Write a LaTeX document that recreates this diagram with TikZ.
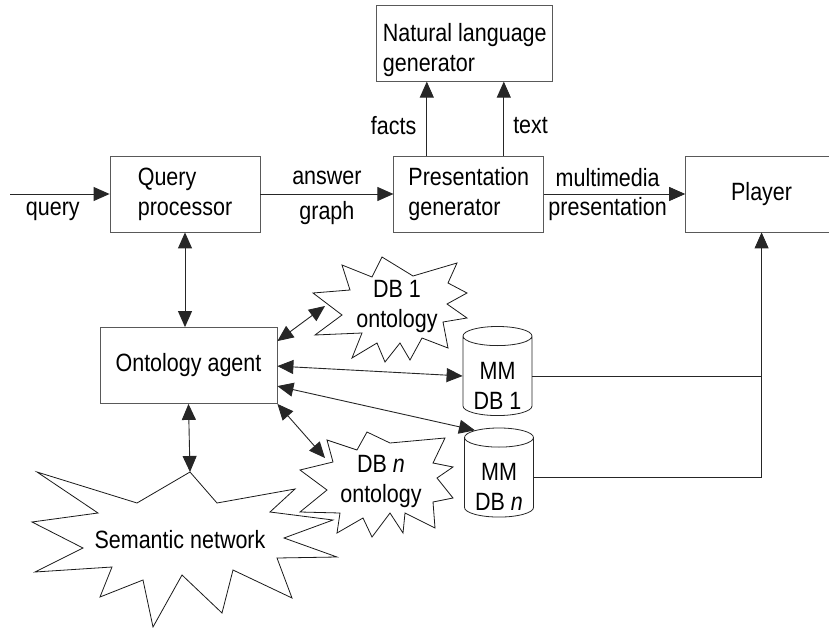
\documentclass[tikz,border=0pt]{standalone}
\usepackage{fontspec}
\setmainfont{Liberation Sans}[FakeStretch=0.86]
\usetikzlibrary{arrows.meta,positioning,shapes.geometric}

\begin{document}
\begin{tikzpicture}[x=1pt,y=-1pt,>={Triangle[length=16pt,width=14pt]},
    font=\fontsize{25}{30}\selectfont,
    block/.style={rectangle,draw=black!65,line width=0.8pt,align=left,minimum width=150pt,minimum height=76pt,inner sep=0pt},
    store/.style={cylinder,shape border rotate=90,aspect=0.4,draw=black!85,line width=0.8pt,minimum width=69pt,minimum height=86pt,inner sep=0pt},
    burst/.style={draw=black!90,line width=0.8pt,line join=miter},
    link/.style={draw=black!85,line width=0.9pt},
    lbl/.style={inner sep=0pt}]

  \useasboundingbox (0,0) rectangle (829,628);

  % boxes
  \node[block]                               (qp) at (185,194) {Query\\processor};
  \node[block]                               (pg) [right=133pt of qp] {Presentation\\generator};
  \node[block,minimum width=176pt]           (nlg) [above=74pt of pg,xshift=-4pt]
    {\raisebox{-7pt}[\height][\depth]{\begin{tabular}{@{}l@{}}Natural language\\generator\end{tabular}}};
  \node[block,minimum width=152pt,align=center] (player) [right=141pt of pg] {Player};
  \node[block,minimum width=177pt,align=center] (oa) at (188.5,365.5) {Ontology agent};
  \node[store] (mmdb1) at (497.5,376)
    {\raisebox{-12pt}[\height][\depth]{\begin{tabular}{@{}c@{}}MM\\DB 1\end{tabular}}};
  \node[store] (mmdbn) at (499,477.5)
    {\raisebox{-12pt}[\height][\depth]{\begin{tabular}{@{}c@{}}MM\\DB \textit{n}\end{tabular}}};

  % starbursts
  \draw[burst] (342,265) -- (372,277) -- (382,257) -- (413,276) -- (457,263) -- (448,283)
    -- (467,293) -- (447,304) -- (467,318) -- (443,322) -- (448,348) -- (422,338)
    -- (410,360) -- (400,343) -- (385,362) -- (377,343) -- (352,358) -- (362,333)
    -- (315,335) -- (342,315) -- (313,293) -- (350,290) -- cycle;
  \node[lbl,align=center] (onto1) at (397,306) {DB 1\\ontology};

  \draw[burst] (327,440) -- (357,450) -- (367,432) -- (390,443) -- (445,438) -- (433,463)
    -- (453,467) -- (437,478) -- (453,498) -- (433,502) -- (435,528) -- (405,513)
    -- (403,533) -- (390,513) -- (372,537) -- (363,518) -- (337,533) -- (340,513)
    -- (300,512) -- (327,490) -- (300,470) -- (333,462) -- cycle;
  \node[lbl,align=center] (onton) at (381,481) {DB \textit{n}\\ontology};

  \draw[burst] (190,472) -- (217,503) -- (295,489) -- (270,512) -- (333,520) -- (284,538)
    -- (337,557) -- (277,558) -- (292,598) -- (233,570) -- (222,613) -- (182,575)
    -- (153,627) -- (143,580) -- (100,597) -- (112,567) -- (35,572) -- (83,548)
    -- (32,522) -- (98,513) -- (37,472) -- (137,503) -- cycle;
  \node[lbl] (sem) at (180,540) {Semantic network};

  \coordinate (qin) at (10,194);
  \coordinate (onto1in) at (325,306);
  \coordinate (ontonin) at (325,458);
  \coordinate (semin) at (190,472);

  % connectors
  \draw[link,->] (qin) -- node[lbl,below=8pt,pos=0.43] {query} (qp);
  \draw[link,->] (qp) -- node[lbl,above=9pt] {answer} node[lbl,below=7pt] {graph} (pg);
  \draw[link,->] (pg) -- node[lbl,above=7pt,pos=0.45] {multimedia} node[lbl,below=3pt,pos=0.45] {presentation} (player);
  \draw[link,->] ([xshift=-42pt]pg.north) -- node[lbl,left=10pt,pos=0.4] {facts} ([xshift=-42pt]pg.north |- nlg.south);
  \draw[link,->] ([xshift=35pt]pg.north) -- node[lbl,right=9pt,pos=0.4] {text} ([xshift=35pt]pg.north |- nlg.south);
  \draw[link,<->] (qp.south) -- (qp.south |- oa.north);
  \draw[link,<->] (oa.south) -- (semin);
  \draw[link,<->] ([yshift=-14pt]oa.north east) -- (onto1in);
  \draw[link,<->] ([yshift=-39pt]oa.north east) -- (mmdb1.west);
  \draw[link,<->] ([yshift=-59pt]oa.north east) -- (mmdbn.117);
  \draw[link,<->] (oa.south east) -- (ontonin);
  \draw[link] (mmdb1.east) -- (mmdb1.east -| player.south);
  \draw[link,->] (mmdbn.east) -| (player.south);

\end{tikzpicture}
\end{document}
